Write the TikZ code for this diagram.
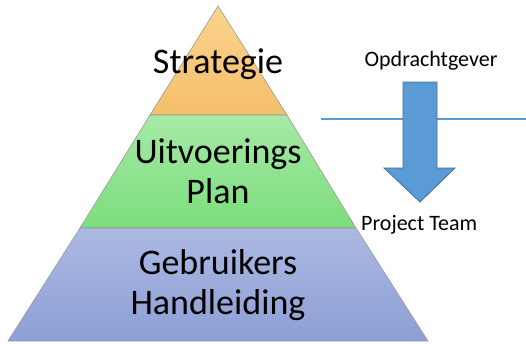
\documentclass[tikz,border=0pt]{standalone}
\usepackage{fontspec}
\setmainfont{Carlito}
\definecolor{orangetop}{HTML}{FAD38E}
\definecolor{orangebot}{HTML}{F5BF6C}
\definecolor{greentop}{HTML}{A6E9A6}
\definecolor{greenbot}{HTML}{7CDD7C}
\definecolor{bluetop}{HTML}{ABB9E2}
\definecolor{bluebot}{HTML}{8E9FD6}
\definecolor{arrowblue}{HTML}{5B9BD5}
\definecolor{arrowedge}{HTML}{41719C}
\begin{document}
\begin{tikzpicture}[x=1pt,y=-1pt]
		\tikzset{tier/.style = {draw=gray!80, line width=0.6pt}}
		\tikzset{label/.style = {align=center, anchor=base, inner sep=0pt, font=\fontsize{36}{40}\selectfont}}
		\tikzset{side/.style = {anchor=base, inner sep=0pt, font=\fontsize{22}{26}\selectfont}}
		
		\useasboundingbox (0,0) rectangle (526,343);
		
		% pyramid
		\shade[tier, top color=orangetop, bottom color=orangebot]
			(218,6) -- (287,115) -- (150,115) -- cycle;
		\shade[tier, top color=greentop, bottom color=greenbot]
			(150,115) -- (287,115) -- (356,228) -- (80,228) -- cycle;
		\shade[tier, top color=bluetop, bottom color=bluebot]
			(80,228) -- (356,228) -- (428,341) -- (8,341) -- cycle;
		
		\node[label] (1) at (218, 73) {Strategie};
		\node[label] (2) at (218,203) {Uitvoerings\\Plan};
		\node[label] (3) at (218,314) {Gebruikers\\Handleiding};
		
		% right side
		\node[side] (4) at (431, 66) {Opdrachtgever};
		\node[side, anchor=base west] (5) at (361,230) {Project Team};
		
		\coordinate (6) at (321,119);
		\coordinate (7) at (526,119);
		\draw[draw=arrowblue, line width=1.2pt] (6) -- (7);
		
		\filldraw[fill=arrowblue, draw=arrowedge, line width=0.8pt]
			(403,82) -- (437,82) -- (437,168) -- (455,168) -- (420,202)
			-- (384,168) -- (403,168) -- cycle;
		\end{tikzpicture}
\end{document}
